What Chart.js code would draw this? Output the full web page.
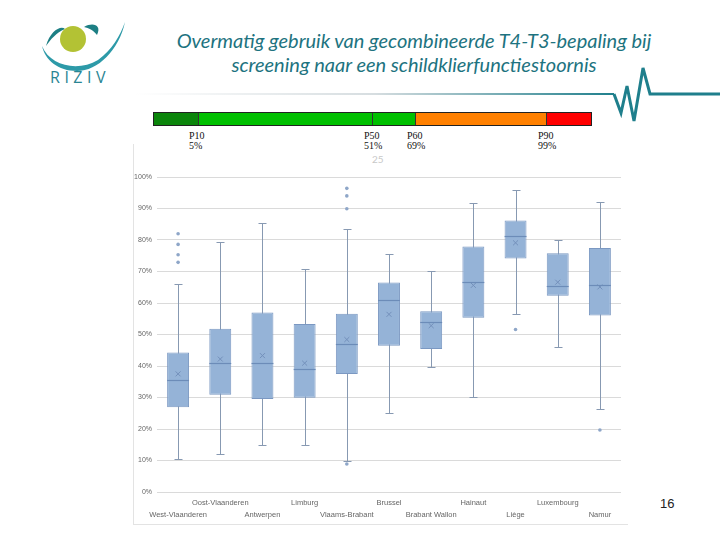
<!DOCTYPE html>
<html>
<head>
<meta charset="utf-8">
<script src="https://cdn.jsdelivr.net/npm/chart.js@4/dist/chart.umd.min.js"></script>
<style>
  body { margin: 0; width: 720px; height: 540px; background: #fff; position: relative; overflow: hidden; font-family: "Lato", sans-serif; }
  #deco { position: absolute; left: 0; top: 0; }
  #title { position: absolute; left: 114px; top: 28px; width: 600px; text-align: center; font-style: italic; font-size: 20px; line-height: 24px; color: #1d7380; }
  #riziv { position: absolute; left: 50px; top: 66px; font-family: "Open Sans", sans-serif; font-size: 16px; letter-spacing: 4.5px; color: #2a8593; }
  #pbar { position: absolute; left: 153px; top: 112px; height: 12px; width: 437px; border: 1px solid #222; display: flex; }
  #pbar div { height: 100%; }
  .plab { position: absolute; font-family: "Liberation Serif", serif; font-size: 10px; line-height: 10px; color: #111; }
  #panel { position: absolute; left: 133px; top: 144px; width: 494px; height: 380px; border-left: 1px solid #e3e3e3; border-bottom: 1px solid #e3e3e3; }
  #wrap { position: absolute; left: 133px; top: 145px; width: 495px; height: 380px; }
  #page { position: absolute; left: 660px; top: 496px; font-family: "Liberation Sans", sans-serif; font-size: 13px; color: #222; }
  #ghost { position: absolute; left: 372px; top: 153px; font-size: 10px; color: #c8c8c8; }
</style>
</head>
<body>
<svg id="deco" width="720" height="540">
  <defs>
    <linearGradient id="fade" x1="135" y1="0" x2="614" y2="0" gradientUnits="userSpaceOnUse">
      <stop offset="0" stop-color="#ffffff"/>
      <stop offset="0.5" stop-color="#d6dde0"/>
      <stop offset="1" stop-color="#1f7f8c"/>
    </linearGradient>
  </defs>
  <line x1="135" y1="94" x2="614" y2="94" stroke="url(#fade)" stroke-width="2"/>
  <polyline points="614,94 621,113 627,86 634,121 643,68 650,94 720,94" fill="none" stroke="#1f7f8c" stroke-width="3" stroke-linejoin="miter"/>
  <!-- logo -->
  <path d="M46,46 C50,31 61,25 65,29 C56,33 51,39 46,46 Z" fill="#1d7f84"/>
  <path d="M84,27 C93,22 102,25 97,35 C93,30 89,28 84,27 Z" fill="#1d7f84"/>
  <circle cx="73" cy="39" r="13" fill="#b3c234"/>
  <path d="M42,46 C50,66 78,72 98,60 C112,50 120,36 125,22 C119,50 98,71 77,71 C58,71 45,60 42,46 Z" fill="#2d9aa8"/>
</svg>
<div id="riziv">RIZIV</div>
<div id="title">Overmatig gebruik van gecombineerde T4-T3-bepaling bij<br>screening naar een schildklierfunctiestoornis</div>
<div id="pbar">
  <div style="width:44px;background:#0b850b;border-right:1px solid #333"></div>
  <div style="width:173px;background:#00c000;border-right:1px solid #333"></div>
  <div style="width:42px;background:#00c000;border-right:1px solid #333"></div>
  <div style="width:130px;background:#ff8000;border-right:1px solid #333"></div>
  <div style="flex:1;background:#ff0000"></div>
</div>
<div class="plab" style="left:189px;top:131px">P10<br>5%</div>
<div class="plab" style="left:364px;top:131px">P50<br>51%</div>
<div class="plab" style="left:407px;top:131px">P60<br>69%</div>
<div class="plab" style="left:538px;top:131px">P90<br>99%</div>
<div id="panel"></div>
<div id="ghost">25</div>
<div id="wrap"><canvas id="boxChart"></canvas></div>
<div id="page">16</div>

<script>
// ==== DATA ====
const provinces = ["West-Vlaanderen", "Oost-Vlaanderen", "Antwerpen", "Limburg", "Vlaams-Brabant",
  "Brussel", "Brabant Wallon", "Hainaut", "Liège", "Luxembourg", "Namur"];
const whiskerLow  = [10.4, 12.2, 14.9, 14.9, 9.7, 25.1, 39.6, 30.1, 56.6, 45.9, 26.4];
const q1          = [26.9, 30.9, 29.5, 29.9, 37.5, 46.4, 45.4, 55.3, 74.1, 62.3, 56.0];
const median      = [35.5, 41.1, 40.9, 38.9, 47.0, 60.8, 53.9, 66.8, 81.3, 65.3, 65.7];
const q3          = [44.3, 51.8, 57.0, 53.3, 56.6, 66.5, 57.4, 77.9, 86.2, 75.8, 77.5];
const whiskerHigh = [65.9, 79.5, 85.5, 70.7, 83.5, 75.6, 70.3, 91.9, 95.9, 80.1, 92.1];
const mean        = [37.5, 42.2, 43.3, 40.9, 48.4, 56.4, 52.8, 65.6, 79.1, 66.6, 65.1];
const outlierProv = ["West-Vlaanderen", "West-Vlaanderen", "West-Vlaanderen", "West-Vlaanderen",
  "Vlaams-Brabant", "Vlaams-Brabant", "Vlaams-Brabant", "Vlaams-Brabant", "Liège", "Namur"];
const outlierVal  = [82.0, 78.6, 75.3, 72.9, 96.4, 94.0, 89.9, 8.9, 51.6, 19.7];
const yTicks      = [0, 10, 20, 30, 40, 50, 60, 70, 80, 90, 100];

// ==== PLUGIN: whiskers + median ====
const whiskerPlugin = {
  id: "whiskers",
  beforeDatasetsDraw(chart) {
    const ctx = chart.ctx, x = chart.scales.x, y = chart.scales.y;
    ctx.save();
    ctx.strokeStyle = "#8799b2";
    ctx.lineWidth = 1;
    provinces.forEach((p, i) => {
      const cx = Math.round(x.getPixelForValue(i)) + 0.5;
      const lo = Math.round(y.getPixelForValue(whiskerLow[i])) + 0.5;
      const hi = Math.round(y.getPixelForValue(whiskerHigh[i])) + 0.5;
      ctx.beginPath();
      ctx.moveTo(cx, lo); ctx.lineTo(cx, hi);
      ctx.moveTo(cx - 4, lo); ctx.lineTo(cx + 4, lo);
      ctx.moveTo(cx - 4, hi); ctx.lineTo(cx + 4, hi);
      ctx.stroke();
    });
    ctx.restore();
  },
  afterDatasetsDraw(chart) {
    const ctx = chart.ctx, y = chart.scales.y;
    const meta = chart.getDatasetMeta(2);
    ctx.save();
    ctx.strokeStyle = "#6c8cb8";
    ctx.lineWidth = 1.2;
    meta.data.forEach((bar, i) => {
      const half = bar.width / 2;
      const my = Math.round(y.getPixelForValue(median[i])) + 0.5;
      ctx.beginPath();
      ctx.moveTo(bar.x - half, my); ctx.lineTo(bar.x + half, my);
      ctx.stroke();
    });
    ctx.restore();
  }
};

// ==== CHART ====
const tickLabels = provinces.map((p, i) => (i % 2 === 0 ? ["", p] : [p]));

new Chart(document.getElementById("boxChart"), {
  type: "bar",
  data: {
    labels: provinces,
    datasets: [
      {
        type: "line",
        data: mean,
        showLine: false,
        pointStyle: "crossRot",
        pointRadius: 3.5,
        pointBorderColor: "#7390bb",
        pointBorderWidth: 1,
        order: 0
      },
      {
        type: "line",
        data: outlierProv.map((p, i) => ({ x: p, y: outlierVal[i] })),
        showLine: false,
        pointStyle: "circle",
        pointRadius: 1.8,
        pointBackgroundColor: "#8ea6c8",
        pointBorderWidth: 0,
        order: 0
      },
      {
        data: provinces.map((p, i) => [q1[i], q3[i]]),
        backgroundColor: "#95b3d7",
        borderColor: "#7b98c2",
        borderWidth: 1,
        borderSkipped: false,
        barPercentage: 0.52,
        categoryPercentage: 1,
        order: 1
      }
    ]
  },
  options: {
    responsive: true,
    maintainAspectRatio: false,
    animation: false,
    layout: { padding: { top: 32, right: 7, left: 0, bottom: 0 } },
    plugins: { legend: { display: false }, tooltip: { enabled: false } },
    scales: {
      x: {
        grid: { display: false },
        border: { display: false },
        ticks: {
          autoSkip: false, maxRotation: 0, padding: -3,
          color: "#666", font: { family: "Liberation Sans Narrow, Liberation Sans", size: 7.5, lineHeight: 1.6 },
          callback: (v, i) => tickLabels[i]
        },
        afterFit: (s) => { s.height = 33; }
      },
      y: {
        min: 0, max: 100,
        afterBuildTicks: (s) => { s.ticks = yTicks.map((v) => ({ value: v })); },
        grid: { color: "#dadada", drawTicks: false },
        border: { display: false },
        ticks: {
          padding: 5, color: "#666",
          font: { family: "Liberation Sans Narrow, Liberation Sans", size: 7 },
          callback: (v) => v + "%"
        },
        afterFit: (s) => { s.width = 24; }
      }
    }
  },
  plugins: [whiskerPlugin]
});
</script>
</body>
</html>
